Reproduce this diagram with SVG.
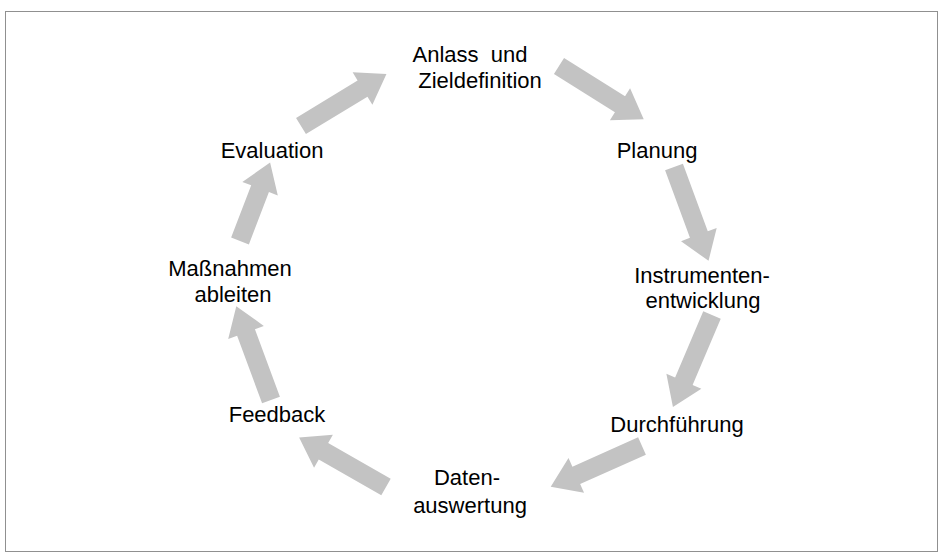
<svg xmlns="http://www.w3.org/2000/svg" width="943" height="560" viewBox="0 0 943 560">
<style>
.lbl{font-family:"Liberation Sans",Arial,sans-serif;font-size:22px;fill:#000;text-anchor:middle}
.arr{fill:#c3c3c3}
</style>
<defs>
<path id="a100" class="arr" d="M0,-9.5 L72,-9.5 L72,-19 L100,0 L72,19 L72,9.5 L0,9.5 Z"/>
<path id="a84" class="arr" d="M0,-9.5 L56,-9.5 L56,-19 L84,0 L56,19 L56,9.5 L0,9.5 Z"/>
</defs>
<rect x="5.5" y="11.5" width="932" height="540" fill="#fff" stroke="#909090" stroke-width="1"/>
<g id="connectors">
<use href="#a100" transform="translate(301,126) rotate(-31.3)"/>
<use href="#a100" transform="translate(559,66) rotate(32.1)"/>
<use href="#a100" transform="translate(674,167) rotate(69.8)"/>
<use href="#a100" transform="translate(712,315) rotate(113)"/>
<use href="#a100" transform="translate(642,446) rotate(155.9)"/>
<use href="#a100" transform="translate(386,487) rotate(209.7)"/>
<use href="#a100" transform="translate(271,400) rotate(249.7)"/>
<use href="#a84" transform="translate(240,241) rotate(-69)"/>
</g>
<g id="n-anlass"><text class="lbl" x="470" y="62" xml:space="preserve" style="white-space:pre">Anlass  und</text><text class="lbl" x="480" y="88">Zieldefinition</text></g>
<g id="n-planung"><text class="lbl" x="657" y="158">Planung</text></g>
<g id="n-instrumente"><text class="lbl" x="702" y="283">Instrumenten-</text><text class="lbl" x="703" y="308">entwicklung</text></g>
<g id="n-durchfuehrung"><text class="lbl" x="677" y="432">Durchführung</text></g>
<g id="n-daten"><text class="lbl" x="467" y="485">Daten-</text><text class="lbl" x="470" y="513">auswertung</text></g>
<g id="n-feedback"><text class="lbl" x="277" y="422">Feedback</text></g>
<g id="n-massnahmen"><text class="lbl" x="230" y="276">Maßnahmen</text><text class="lbl" x="233" y="302">ableiten</text></g>
<g id="n-evaluation"><text class="lbl" x="272" y="158">Evaluation</text></g>
</svg>
